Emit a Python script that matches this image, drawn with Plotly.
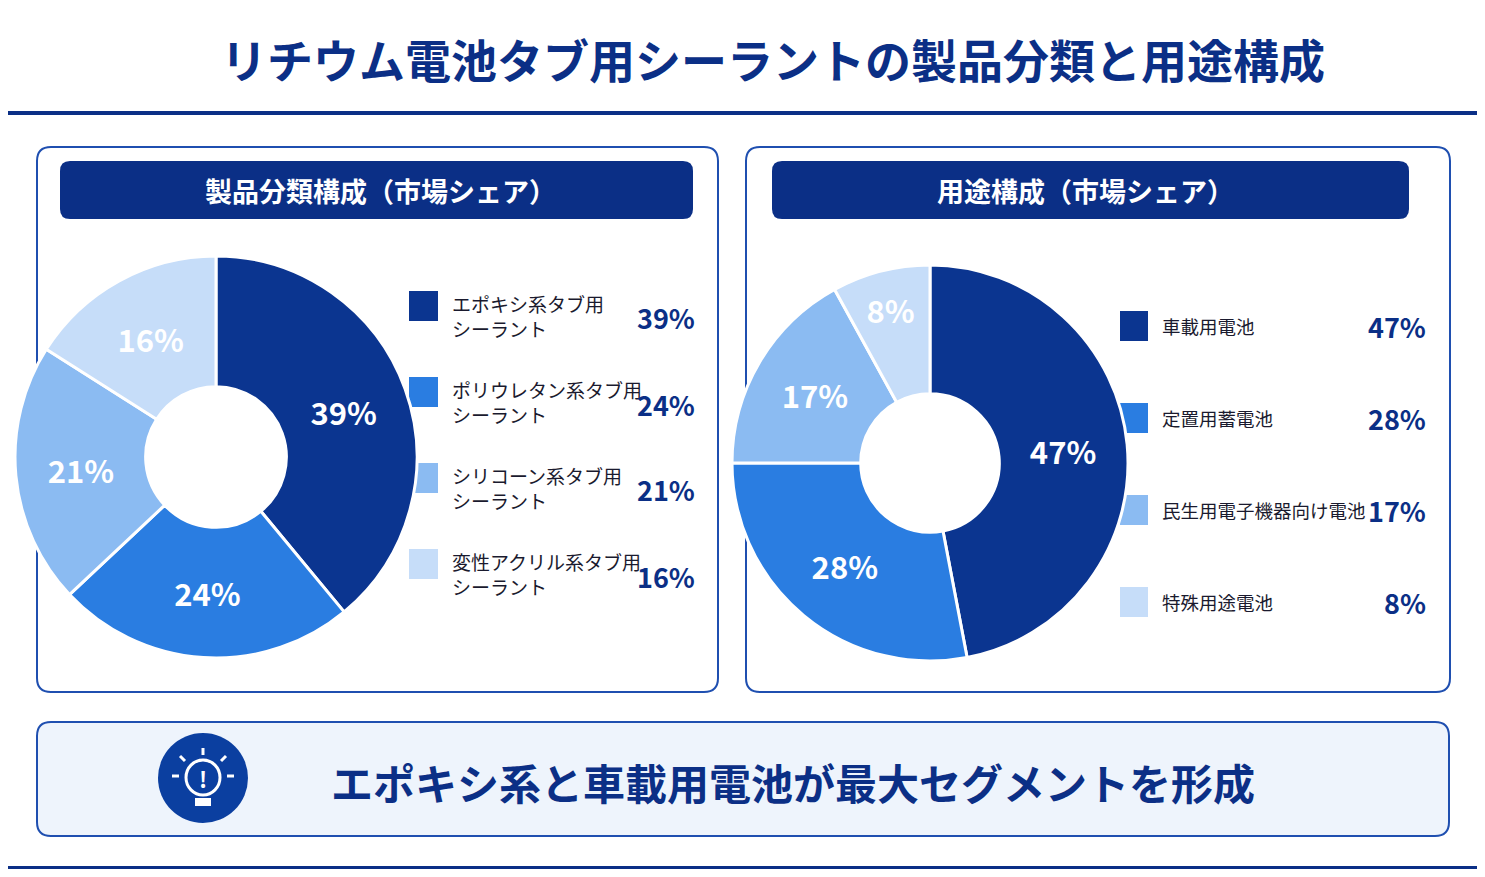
import plotly.graph_objects as go

W, H = 1485, 877
OFF = 8  # default page margin of the html body

title = "リチウム電池タブ用シーラントの製品分類と用途構成"
left_title = "製品分類構成（市場シェア）"
right_title = "用途構成（市場シェア）"
footer = "エポキシ系と車載用電池が最大セグメントを形成"

prod_labels = ["エポキシ系タブ用<br>シーラント", "ポリウレタン系タブ用<br>シーラント",
               "シリコーン系タブ用<br>シーラント", "変性アクリル系タブ用<br>シーラント"]
prod_values = [39, 24, 21, 16]

use_labels = ["車載用電池", "定置用蓄電池", "民生用電子機器向け電池", "特殊用途電池"]
use_values = [47, 28, 17, 8]

colors = ["#0b3590", "#2a7de1", "#8bbbf2", "#c6ddf9"]
navy = "#0b2f86"
FONT = "Noto Sans CJK JP"

FW, FH = W - 2 * OFF, H - 2 * OFF


def px_x(x):
    return (x - OFF) / FW


def px_y(y):
    return 1 - (y - OFF) / FH


def rrect(x0, y0, x1, y1, r):
    # rounded rectangle path in paper coordinates (input in pixels from top-left)
    X, Y = px_x, px_y
    return (f"M {X(x0+r)} {Y(y0)} L {X(x1-r)} {Y(y0)} Q {X(x1)} {Y(y0)} {X(x1)} {Y(y0+r)} "
            f"L {X(x1)} {Y(y1-r)} Q {X(x1)} {Y(y1)} {X(x1-r)} {Y(y1)} "
            f"L {X(x0+r)} {Y(y1)} Q {X(x0)} {Y(y1)} {X(x0)} {Y(y1-r)} "
            f"L {X(x0)} {Y(y0+r)} Q {X(x0)} {Y(y0)} {X(x0+r)} {Y(y0)} Z")


fig = go.Figure()

for values, labels, cx, cy, r in [(prod_values, prod_labels, 216, 457, 201),
                                  (use_values, use_labels, 930, 463, 198)]:
    fig.add_trace(go.Pie(
        values=values, labels=labels, hole=0.35, sort=False, direction="clockwise",
        rotation=0, marker=dict(colors=colors, line=dict(color="white", width=3)),
        texttemplate="<b>%{value}%</b>", textposition="inside", insidetextorientation="horizontal",
        textfont=dict(color="white", size=31, family=FONT),
        domain=dict(x=[px_x(cx - r), px_x(cx + r)], y=[px_y(cy + r), px_y(cy - r)]),
        showlegend=False, hoverinfo="label+percent",
    ))

shapes = [
    dict(type="line", x0=0, x1=1, y0=px_y(113), y1=px_y(113), line=dict(color=navy, width=4)),
    dict(type="rect", x0=0, x1=1, y0=0, y1=px_y(866), fillcolor=navy, line=dict(width=0)),
    dict(type="path", path=rrect(37, 147, 718, 692, 14), line=dict(color="#1f4fb0", width=2),
         fillcolor="white"),
    dict(type="path", path=rrect(746, 147, 1450, 692, 14), line=dict(color="#1f4fb0", width=2),
         fillcolor="white"),
    dict(type="path", path=rrect(60, 161, 693, 219, 10), line=dict(width=0), fillcolor=navy),
    dict(type="path", path=rrect(772, 161, 1409, 219, 10), line=dict(width=0), fillcolor=navy),
    dict(type="path", path=rrect(37, 722, 1449, 836, 14), line=dict(color="#1f4fb0", width=2),
         fillcolor="#eef4fc"),
    dict(type="circle", x0=px_x(158), x1=px_x(248), y0=px_y(823), y1=px_y(733),
         fillcolor="#0b3fa0", line=dict(width=0)),
    dict(type="circle", x0=px_x(186), x1=px_x(220), y0=px_y(795), y1=px_y(760),
         line=dict(color="white", width=3)),
    dict(type="rect", x0=px_x(195), x1=px_x(211), y0=px_y(806), y1=px_y(798),
         fillcolor="white", line=dict(width=0)),
]
# bulb rays
for (a, b, c, d) in [(203, 748, 203, 755), (180, 756, 185, 761), (226, 756, 221, 761),
                     (172, 776, 179, 776), (234, 776, 227, 776)]:
    shapes.append(dict(type="line", x0=px_x(a), y0=px_y(b), x1=px_x(c), y1=px_y(d),
                       line=dict(color="white", width=3)))

annotations = [
    dict(text=f"<b>{title}</b>", x=px_x(773), y=px_y(58), font=dict(size=46, color=navy)),
    dict(text=f"<b>{left_title}</b>", x=px_x(380), y=px_y(190), font=dict(size=27, color="white")),
    dict(text=f"<b>{right_title}</b>", x=px_x(1085), y=px_y(190), font=dict(size=27, color="white")),
    dict(text=f"<b>{footer}</b>", x=px_x(793), y=px_y(781), font=dict(size=42, color=navy)),
    dict(text="<b>!</b>", x=px_x(203), y=px_y(778), font=dict(size=22, color="white")),
]

# legends
for i, (lab, v) in enumerate(zip(prod_labels, prod_values)):
    y = 306 + i * 86
    shapes.append(dict(type="rect", x0=px_x(409), x1=px_x(438), y0=px_y(y + 15), y1=px_y(y - 15),
                       fillcolor=colors[i], line=dict(width=0)))
    annotations.append(dict(text=lab, x=px_x(450), y=px_y(y + 10), xanchor="left",
                            align="left", font=dict(size=19, color="#1a1a2e")))
    annotations.append(dict(text=f"<b>{v}%</b>", x=px_x(697), y=px_y(y + 12), xanchor="right",
                            font=dict(size=27, color=navy)))
for i, (lab, v) in enumerate(zip(use_labels, use_values)):
    y = 326 + i * 92
    shapes.append(dict(type="rect", x0=px_x(1120), x1=px_x(1148), y0=px_y(y + 15), y1=px_y(y - 15),
                       fillcolor=colors[i], line=dict(width=0)))
    annotations.append(dict(text=lab, x=px_x(1160), y=px_y(y), xanchor="left",
                            font=dict(size=18.5, color="#1a1a2e")))
    annotations.append(dict(text=f"<b>{v}%</b>", x=px_x(1428), y=px_y(y), xanchor="right",
                            font=dict(size=27, color=navy)))

for s in shapes:
    s.update(xref="paper", yref="paper", layer="below")
for a in annotations:
    a.update(xref="paper", yref="paper", showarrow=False)
    a.setdefault("xanchor", "center")
    a["yanchor"] = "middle"

fig.update_layout(
    width=FW, height=FH, margin=dict(l=0, r=0, t=0, b=0),
    paper_bgcolor="white", plot_bgcolor="rgba(0,0,0,0)",
    font=dict(family=FONT),
    shapes=shapes, annotations=annotations,
)

fig.write_html("out.html")
